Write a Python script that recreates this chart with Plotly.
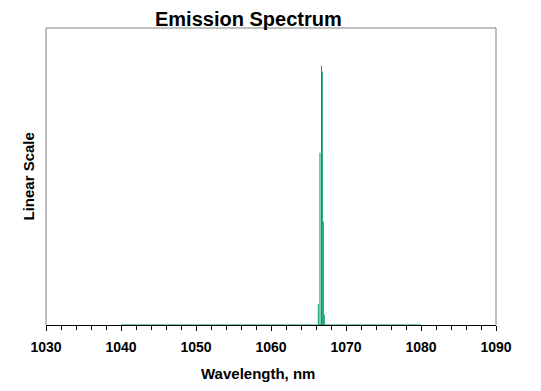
import plotly.graph_objects as go

# Data
wavelength = [1066.31, 1066.53, 1066.73, 1066.84, 1066.97, 1067.10]
intensity = [0.07, 0.58, 0.873, 0.853, 0.348, 0.035]
baseline_range = [1040, 1080]
x_ticks = [1030, 1040, 1050, 1060, 1070, 1080, 1090]

GREEN = "#00996B"
GRAY = "#808080"
FONT = "Liberation Sans, Arial, sans-serif"

# impulse style path built from the data arrays
xs, ys = [], []
for w, v in zip(wavelength, intensity):
    xs += [w, w, None]
    ys += [0, v, None]

fig = go.Figure()
fig.add_trace(go.Scatter(x=baseline_range, y=[0, 0], mode="lines",
                         line=dict(color=GREEN, width=1.2), hoverinfo="skip"))
fig.add_trace(go.Scatter(x=xs, y=ys, mode="lines",
                         line=dict(color=GREEN, width=1.0), hoverinfo="skip"))

fig.update_layout(
    width=541, height=391,
    margin=dict(l=46, r=45, t=28, b=66),
    paper_bgcolor="white", plot_bgcolor="white",
    showlegend=False,
    font=dict(family=FONT, color="black"),
    xaxis=dict(range=[1030, 1090], tickvals=x_ticks,
               ticktext=[str(t) for t in x_ticks],
               ticks="outside", ticklen=5, tickcolor="black", tickwidth=1,
               minor=dict(dtick=2, ticks="outside", ticklen=4, tickcolor="black"),
               showline=True, linecolor="black", linewidth=1,
               showgrid=False, zeroline=False, ticklabelstandoff=4,
               tickfont=dict(size=14, family=FONT, weight="bold")),
    yaxis=dict(range=[0, 1], showticklabels=False, ticks="",
               showline=False, showgrid=False, zeroline=False),
    shapes=[
        dict(type="line", xref="paper", yref="paper", x0=0, x1=0, y0=0, y1=1,
             line=dict(color=GRAY, width=1)),
        dict(type="line", xref="paper", yref="paper", x0=1, x1=1, y0=0, y1=1,
             line=dict(color=GRAY, width=1)),
        dict(type="line", xref="paper", yref="paper", x0=0, x1=1, y0=1, y1=1,
             line=dict(color=GRAY, width=1)),
    ],
    annotations=[
        dict(text="<b>Emission Spectrum</b>", xref="paper", yref="paper",
             x=(248 - 46) / 450, y=1, yanchor="bottom", xanchor="center",
             yshift=-4, showarrow=False, font=dict(size=20, family=FONT)),
        dict(text="<b>Wavelength, nm</b>", xref="paper", yref="paper",
             x=(258 - 46) / 450, y=0, yanchor="top", xanchor="center",
             yshift=-38, showarrow=False, font=dict(size=15, family=FONT)),
        dict(text="<b>Linear Scale</b>", xref="paper", yref="paper",
             x=0, y=0.5, xanchor="center", yanchor="middle", xshift=-18,
             textangle=-90, showarrow=False, font=dict(size=15, family=FONT)),
    ],
)

fig.write_html("out.html", config={"displayModeBar": False})

# remove the default page margin so the figure sits at the window origin
with open("out.html", "r", encoding="utf-8") as f:
    html = f.read()
html = html.replace("<body>", '<body style="margin:0;">', 1)
with open("out.html", "w", encoding="utf-8") as f:
    f.write(html)
